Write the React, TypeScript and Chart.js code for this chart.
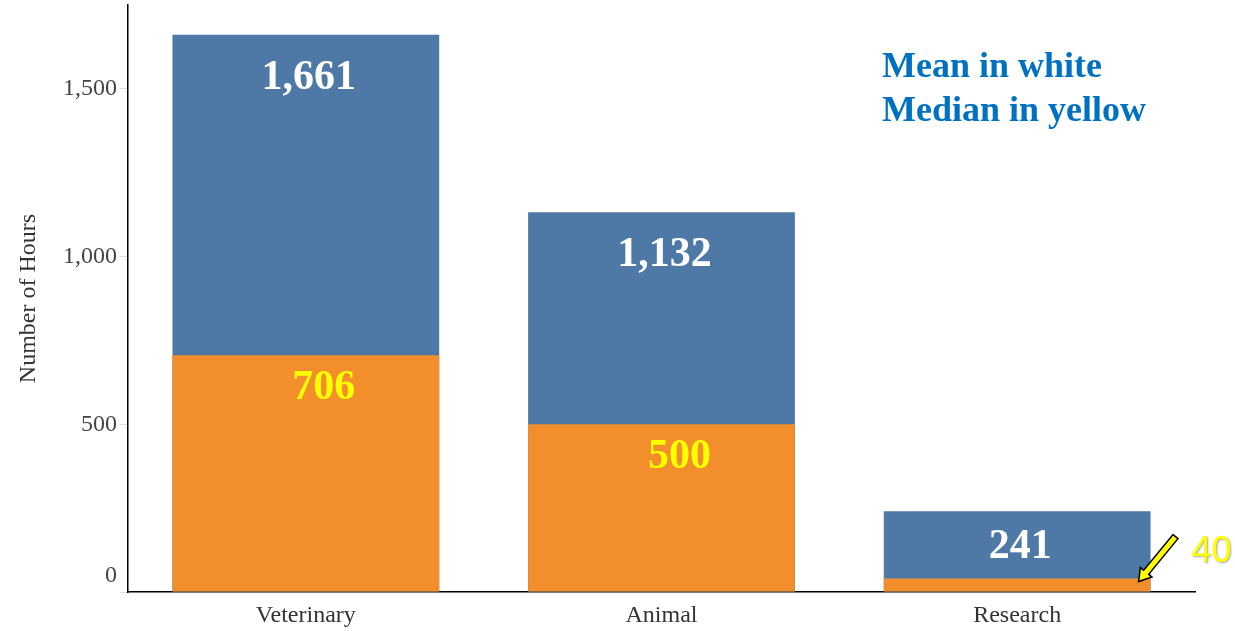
import React, { useEffect, useRef } from 'react';
import { Chart, registerables } from 'chart.js';

Chart.register(...registerables);

const categories = ['Veterinary', 'Animal', 'Research'];
const meanHours = [1661, 1132, 241];
const medianHours = [706, 500, 40];
const yTicks = [0, 500, 1000, 1500];
const yMax = 1750;
const noteLines = ['Mean in white', 'Median in yellow'];

const BLUE = '#4E79A7';
const ORANGE = '#F28E2B';
const SERIF = "'Liberation Serif', 'Times New Roman', serif";
const SANS = "'Liberation Sans', Arial, sans-serif";

const fmt = (v: number) => v.toLocaleString('en-US');

const labelPlugin = {
  id: 'valueLabels',
  afterDatasetsDraw(chart: any) {
    const ctx = chart.ctx;
    const meanMeta = chart.getDatasetMeta(0);
    const medMeta = chart.getDatasetMeta(1);
    ctx.save();
    ctx.textAlign = 'center';
    ctx.textBaseline = 'middle';
    meanHours.forEach((v, i) => {
      const bar = meanMeta.data[i];
      const med = medMeta.data[i];
      const y = Math.min(bar.y + 43, (bar.y + med.y) / 2 + 2);
      ctx.font = `bold 42px ${SERIF}`;
      ctx.fillStyle = '#FFFFFF';
      ctx.fillText(fmt(v), bar.x + 3, y);
    });
    medianHours.forEach((v, i) => {
      const bar = medMeta.data[i];
      const h = bar.base - bar.y;
      if (h > 45) {
        ctx.font = `bold 42px ${SERIF}`;
        ctx.fillStyle = '#FFFF00';
        ctx.textAlign = 'center';
        ctx.fillText(fmt(v), bar.x + 18, bar.y + 33);
      } else {
        const right = bar.x + bar.width / 2;
        const tipX = right - 12;
        const tipY = bar.y + 3;
        const tailX = right + 25;
        const tailY = bar.y - 42;
        const ang = Math.atan2(tipY - tailY, tipX - tailX);
        const len = Math.hypot(tipX - tailX, tipY - tailY);
        ctx.save();
        ctx.translate(tailX, tailY);
        ctx.rotate(ang);
        const sw = 3.2;
        const hl = 12;
        const hw = 7.5;
        ctx.beginPath();
        ctx.moveTo(0, -sw);
        ctx.lineTo(len - hl, -sw);
        ctx.lineTo(len - hl, -hw);
        ctx.lineTo(len, 0);
        ctx.lineTo(len - hl, hw);
        ctx.lineTo(len - hl, sw);
        ctx.lineTo(0, sw);
        ctx.closePath();
        ctx.fillStyle = '#FFFF00';
        ctx.fill();
        ctx.lineWidth = 1.5;
        ctx.strokeStyle = '#000000';
        ctx.stroke();
        ctx.restore();
        ctx.font = `36px ${SANS}`;
        ctx.fillStyle = '#FFFF00';
        ctx.shadowColor = 'rgba(0,0,0,0.35)';
        ctx.shadowBlur = 2;
        ctx.shadowOffsetX = 1;
        ctx.shadowOffsetY = 1;
        ctx.textAlign = 'center';
        ctx.fillText(fmt(v), right + 61, bar.y - 27);
        ctx.shadowColor = 'transparent';
      }
    });
    ctx.textAlign = 'left';
    ctx.textBaseline = 'alphabetic';
    ctx.font = `bold 36px ${SERIF}`;
    ctx.fillStyle = '#0070C0';
    noteLines.forEach((t, i) => {
      ctx.fillText(t, chart.chartArea.right - 313, 77 + i * 44);
    });
    const ys = chart.scales.y;
    ctx.font = `24px ${SERIF}`;
    ctx.fillStyle = '#444444';
    ctx.textAlign = 'right';
    ctx.textBaseline = 'middle';
    ctx.fillText('0', ys.right - 11, ys.getPixelForValue(0) - 16);
    ctx.restore();
  },
};

export default function App() {
  const ref = useRef<HTMLCanvasElement | null>(null);

  useEffect(() => {
    if (!ref.current) return;
    const chart = new Chart(ref.current, {
      type: 'bar',
      data: {
        labels: categories,
        datasets: [
          {
            label: 'Mean',
            data: meanHours,
            backgroundColor: BLUE,
            order: 2,
            barPercentage: 1,
            categoryPercentage: 0.75,
          },
          {
            label: 'Median',
            data: medianHours,
            backgroundColor: ORANGE,
            order: 1,
            barPercentage: 1,
            categoryPercentage: 0.75,
          },
        ],
      },
      options: {
        animation: false,
        responsive: true,
        maintainAspectRatio: false,
        layout: { padding: { top: 5, right: 40, left: 0, bottom: 0 } },
        plugins: {
          legend: { display: false },
          tooltip: { enabled: false },
        },
        scales: {
          x: {
            stacked: true,
            grid: { display: false, drawTicks: false },
            border: { display: true, color: '#000000', width: 1.5 },
            ticks: {
              color: '#333333',
              padding: 9,
              font: { family: SERIF, size: 24 },
            },
            afterFit: (s: any) => {
              s.height = 39;
            },
          },
          y: {
            stacked: false,
            min: 0,
            max: yMax,
            afterBuildTicks: (s: any) => {
              s.ticks = yTicks.map((v) => ({ value: v }));
            },
            afterFit: (s: any) => {
              s.width = 128;
              s.paddingTop = 0;
              s.paddingBottom = 0;
            },
            grid: {
              display: true,
              drawOnChartArea: false,
              drawTicks: true,
              tickLength: 8,
              color: '#DDDDDD',
            },
            border: { display: true, color: '#000000', width: 1.5 },
            ticks: {
              color: '#444444',
              padding: 3,
              font: { family: SERIF, size: 24 },
              callback: (v: any) => (Number(v) === 0 ? '' : fmt(Number(v))),
            },
            title: {
              display: true,
              text: 'Number of Hours',
              color: '#333333',
              font: { family: SERIF, size: 24 },
              padding: { top: 14, bottom: 0 },
            },
          },
        },
      },
      plugins: [labelPlugin],
    });
    return () => chart.destroy();
  }, []);

  return (
    <div style={{ position: 'absolute', left: 0, top: 0, width: 1235, height: 631, background: '#fff' }}>
      <canvas ref={ref} />
    </div>
  );
}
